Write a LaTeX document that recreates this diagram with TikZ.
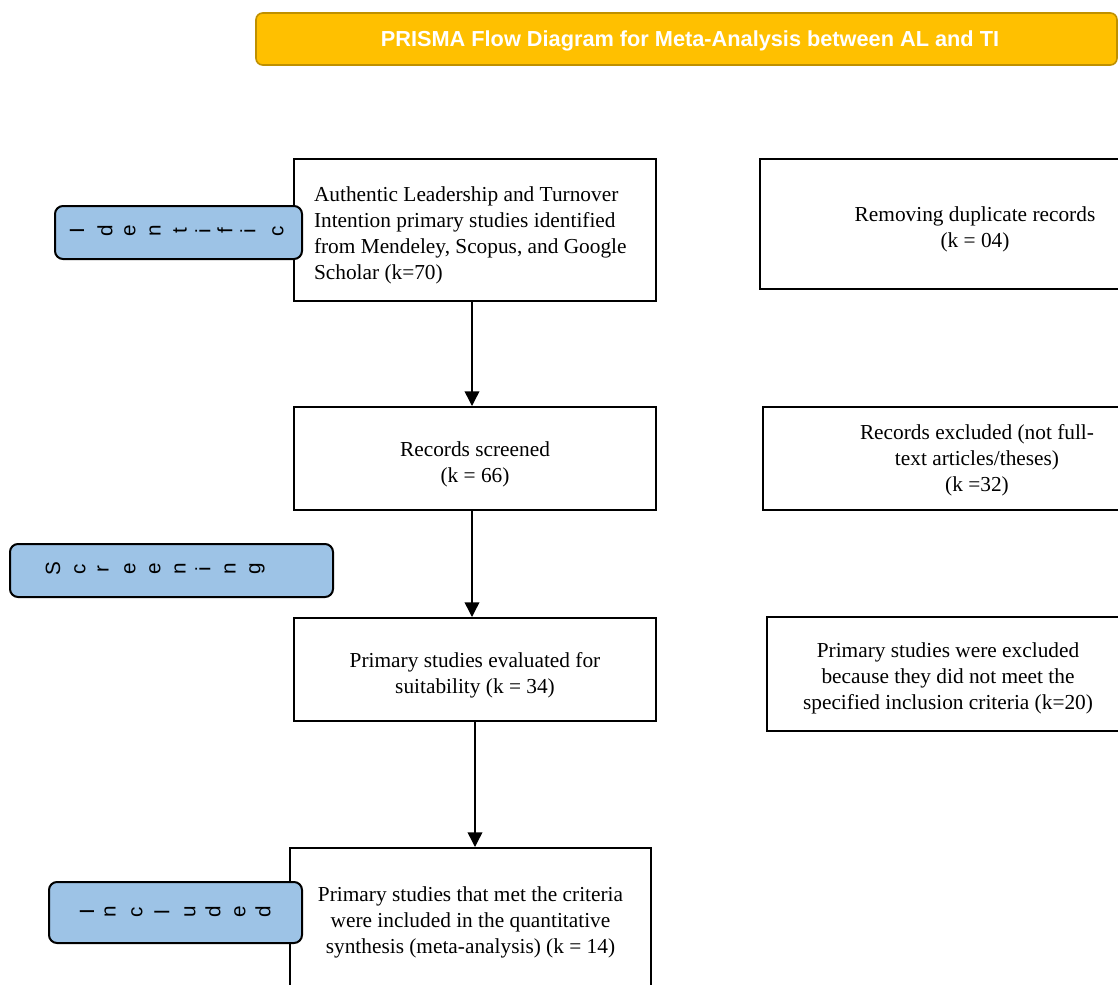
\documentclass[tikz,border=0pt]{standalone}
\usepackage{fontspec}
\setmainfont{Liberation Serif}
\newfontfamily\arialfont{Liberation Sans}
\usetikzlibrary{arrows.meta}
\definecolor{titlefill}{HTML}{FFC000}
\definecolor{titleedge}{HTML}{BF9000}
\definecolor{sidefill}{HTML}{9DC3E6}
\newdimen\pxu \pxu=0.75pt
\begin{document}
\begin{tikzpicture}[x=0.75pt,y=-0.75pt,
 flowbox/.style={draw=black,line width=1.5pt,fill=white,inner sep=0pt},
 flowtext/.style={font=\fontsize{16}{19.5}\selectfont,inner sep=0pt},
 sidebox/.style={draw=black,line width=1.5pt,fill=sidefill,rounded corners=6pt,inner sep=0pt},
 sideletter/.style={rotate=90,font=\arialfont\fontsize{15.5}{16}\selectfont,inner sep=0pt},
 flowarrow/.style={line width=1.1pt,-{Triangle[length=11pt,width=11pt]}}]
\useasboundingbox (0,0) rectangle (1118,985);
\clip (0,0) rectangle (1118,985);

% title
\node[draw=titleedge,fill=titlefill,line width=1.2pt,rounded corners=5pt,
  minimum width=861\pxu,minimum height=52\pxu,inner sep=0pt] (title) at (686.5,39) {};
\node[text=white,inner sep=0pt,font=\arialfont\bfseries\fontsize{16.3}{18}\selectfont] (titletxt) at (690,41)
  {PRISMA Flow Diagram for Meta-Analysis between AL and TI};

% main flow
\node[flowbox,minimum width=362\pxu,minimum height=142\pxu] (ident) at (475,230) {};
\node[flowtext,text width=322\pxu,align=flush left] (identtxt) at (475,235)
  {Authentic Leadership and Turnover\\Intention primary studies identified\\from Mendeley, Scopus, and Google\\Scholar (k=70)};
\node[flowbox,minimum width=362\pxu,minimum height=103\pxu] (screen) at (475,458.5) {};
\node[flowtext,align=center] (screentxt) at (475,464) {Records screened\\(k = 66)};
\node[flowbox,minimum width=362\pxu,minimum height=103\pxu] (elig) at (475,669.5) {};
\node[flowtext,align=center] (eligtxt) at (475,675) {Primary studies evaluated for\\suitability (k = 34)};
\node[flowbox,minimum width=361\pxu,minimum height=152\pxu] (incl) at (470.5,924) {};
\node[flowtext,align=center] (incltxt) at (470.5,922)
  {Primary studies that met the criteria\\were included in the quantitative\\synthesis (meta-analysis) (k = 14)};

% right boxes
\node[flowbox,minimum width=430\pxu,minimum height=130\pxu] (dup) at (975,224) {};
\node[flowtext,align=center] (duptxt) at (975,229) {Removing duplicate records\\(k = 04)};
\node[flowbox,minimum width=428\pxu,minimum height=103\pxu] (excl) at (977,458.5) {};
\node[flowtext,align=center] (excltxt) at (977,460.5)
  {Records excluded (not full-\\text articles/theses)\mbox{}\hspace*{34\pxu}\\(k =32)};
\node[flowbox,minimum width=362\pxu,minimum height=114\pxu] (excl2) at (948,674) {};
\node[flowtext,align=center] (excl2txt) at (948,678.5)
  {Primary studies were excluded\\because they did not meet the\\specified inclusion criteria (k=20)};

% arrows
\draw[flowarrow] ([xshift=-3\pxu]ident.south) -- ([xshift=-3\pxu]screen.north);
\draw[flowarrow] ([xshift=-3\pxu]screen.south) -- ([xshift=-3\pxu]elig.north);
\draw[flowarrow] (elig.south) -- (elig.south |- incl.north);

% side labels
\node[sidebox,minimum width=247\pxu,minimum height=53\pxu] (idbox) at (178.5,232.5) {};
\foreach \ch/\xx [count=\i] in {I/77,d/105,e/130,n/155,t/180,i/203,f/225,i/248,c/278}
  \node[sideletter] (idl\i) at (\xx,231) {\ch};

\node[sidebox,minimum width=323\pxu,minimum height=53\pxu] (scbox) at (171.5,570.5) {};
\foreach \ch/\xx [count=\i] in {S/53,c/80,r/103,e/130,e/155,n/180,i/203,n/230,g/257}
  \node[sideletter] (scl\i) at (\xx,569) {\ch};

\node[sidebox,minimum width=253\pxu,minimum height=61\pxu] (inbox) at (175.5,912.5) {};
\foreach \ch/\xx [count=\i] in {I/87,n/110,c/137,l/162,u/190,d/213,e/240,d/263}
  \node[sideletter] (inl\i) at (\xx,912) {\ch};
\end{tikzpicture}
\end{document}
